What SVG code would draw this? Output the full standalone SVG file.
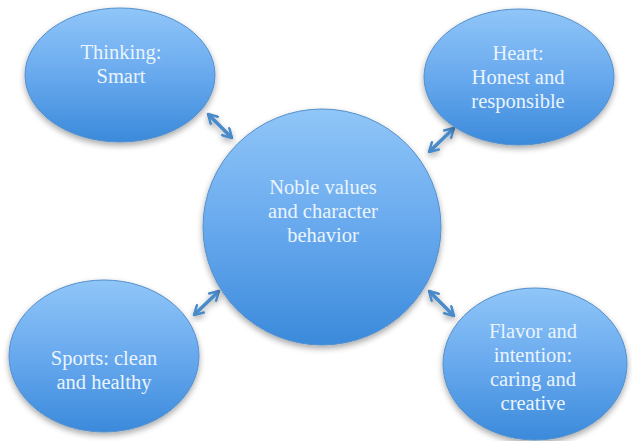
<svg xmlns="http://www.w3.org/2000/svg" width="632" height="441" viewBox="0 0 632 441">
<defs>
<linearGradient id="blue" x1="0" y1="0" x2="0" y2="1">
<stop offset="0" stop-color="#90c6f8"/>
<stop offset="0.5" stop-color="#68a9ee"/>
<stop offset="1" stop-color="#3b8adb"/>
</linearGradient>
<filter id="shadow" x="-20%" y="-20%" width="140%" height="150%">
<feGaussianBlur in="SourceAlpha" stdDeviation="3"/>
<feOffset dx="0" dy="3" result="b"/>
<feComponentTransfer><feFuncA type="linear" slope="0.35"/></feComponentTransfer>
<feMerge><feMergeNode/><feMergeNode in="SourceGraphic"/></feMerge>
</filter>
<marker id="head" viewBox="0 0 10 10" refX="8.5" refY="5" markerWidth="3.6" markerHeight="3.6" orient="auto-start-reverse" markerUnits="strokeWidth">
<path d="M1.5,1 L8.5,5 L1.5,9" fill="none" stroke="#4a8ac8" stroke-width="2" stroke-linecap="round" stroke-linejoin="round"/>
</marker>
</defs>
<style>
.node{fill:url(#blue);stroke:#548fcb;stroke-width:1;filter:url(#shadow)}
.lbl{font-family:"Liberation Serif","Times New Roman",serif;font-size:20.5px;fill:#eaf4fe;text-anchor:middle}
.conn{stroke:#4a8ac8;stroke-width:3.5;fill:none;marker-start:url(#head);marker-end:url(#head);filter:url(#shadow)}
</style>
<rect width="632" height="441" fill="#ffffff"/>
<g id="connectors">
<line class="conn" x1="208" y1="114" x2="232" y2="138"/>
<line class="conn" x1="454" y1="128" x2="429" y2="152"/>
<line class="conn" x1="219" y1="291" x2="194" y2="315"/>
<line class="conn" x1="429" y1="291" x2="454" y2="316"/>
</g>
<g id="node-thinking">
<ellipse class="node" cx="120" cy="75" rx="95" ry="67"/>
<text class="lbl" x="121" y="59">Thinking:</text>
<text class="lbl" x="121" y="83">Smart</text>
</g>
<g id="node-heart">
<ellipse class="node" cx="519" cy="77" rx="95" ry="68"/>
<text class="lbl" x="518" y="60">Heart:</text>
<text class="lbl" x="518" y="84">Honest and</text>
<text class="lbl" x="518" y="108">responsible</text>
</g>
<g id="node-center">
<ellipse class="node" cx="322" cy="227" rx="119" ry="118"/>
<text class="lbl" x="323" y="194">Noble values</text>
<text class="lbl" x="323" y="218">and character</text>
<text class="lbl" x="323" y="242">behavior</text>
</g>
<g id="node-sports">
<ellipse class="node" cx="104" cy="356" rx="95" ry="76"/>
<text class="lbl" x="104" y="365">Sports: clean</text>
<text class="lbl" x="104" y="389">and healthy</text>
</g>
<g id="node-flavor">
<ellipse class="node" cx="535" cy="364" rx="92" ry="76"/>
<text class="lbl" x="533" y="338">Flavor and</text>
<text class="lbl" x="533" y="362">intention:</text>
<text class="lbl" x="533" y="386">caring and</text>
<text class="lbl" x="533" y="410">creative</text>
</g>
</svg>
